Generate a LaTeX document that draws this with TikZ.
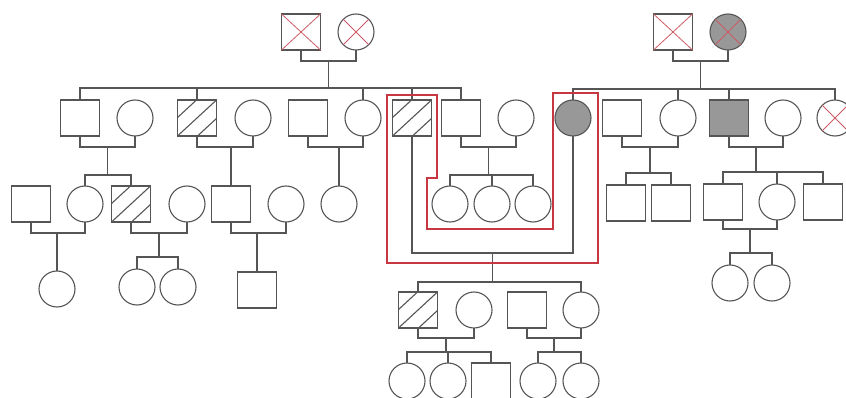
\documentclass[tikz,border=0pt]{standalone}
\usetikzlibrary{calc}
\definecolor{ln}{RGB}{85,85,85}
\definecolor{rd}{RGB}{200,55,65}
\definecolor{xr}{RGB}{205,90,100}
\definecolor{gf}{RGB}{152,152,152}
\begin{document}
\begin{tikzpicture}[x=1pt,y=-1pt,
  every node/.style={draw=ln, line width=1.1pt, inner sep=0pt, outer sep=0pt},
  sq/.style={rectangle, minimum width=39pt, minimum height=36pt},
  ci/.style={circle, minimum size=36pt},
  hatch/.style={sq, path picture={\foreach \d in {-20,0,20}{\draw[ln,line width=1.1pt] ([xshift=\d pt]path picture bounding box.south west) -- ++(39pt,36pt);}}},
  filled/.style={fill=gf},
  conn/.style={draw=ln, line width=1.1pt},
  redline/.style={draw=rd, line width=1.1pt},
  xmark/.style={draw=xr, line width=0.8pt}]
\useasboundingbox (0,0) rectangle (846,398);

% generation 1
\node[sq] (ga) at (301,32) {};
\node[ci] (gb) at (356,32) {};
\node[sq] (gc) at (673,32) {};
\node[ci,filled] (gd) at (728,32) {};
\foreach \n in {ga,gb,gc,gd}
  \draw[xmark] (\n.south west) -- (\n.north east) (\n.north west) -- (\n.south east);

% generation 2
\node[sq] (s1) at (80,118) {};
\node[ci] (c1) at (135,118) {};
\node[hatch] (h2) at (197,118) {};
\node[ci] (c2) at (253,118) {};
\node[sq] (s3) at (308,118) {};
\node[ci] (c3) at (363,118) {};
\node[hatch] (h4) at (412,118) {};
\node[sq] (s5) at (461,118) {};
\node[ci] (c5) at (516,118) {};
\node[ci,filled] (gcc) at (573,118) {};
\node[sq] (s6) at (622,118) {};
\node[ci] (c6) at (678,118) {};
\node[sq,filled] (gs) at (729,118) {};
\node[ci] (c7) at (783,118) {};
\node[ci] (cx) at (835,118) {};
\draw[xmark] (cx.south west) -- (cx.north east) (cx.north west) -- (cx.south east);

% generation 3
\node[sq] (a3) at (31,204) {};
\node[ci] (b3) at (85,204) {};
\node[hatch] (hc3) at (131,204) {};
\node[ci] (d3) at (187,204) {};
\node[sq] (e3) at (231,204) {};
\node[ci] (f3) at (286,204) {};
\node[ci] (g3) at (339,204) {};
\node[ci] (t1) at (450,204) {};
\node[ci] (t2) at (492,204) {};
\node[ci] (t3) at (533,204) {};
\node[sq] (u1) at (626,203) {};
\node[sq] (u2) at (671,203) {};
\node[sq] (v1) at (723,202) {};
\node[ci] (v2) at (777,202) {};
\node[sq] (v3) at (823,202) {};

% generation 4
\node[ci] (a4) at (57,289) {};
\node[ci] (c4a) at (137,287) {};
\node[ci] (c4b) at (178,287) {};
\node[sq] (e4) at (257,290) {};
\node[hatch] (w1) at (418,310) {};
\node[ci] (w2) at (474,310) {};
\node[sq] (w3) at (527,310) {};
\node[ci] (w4) at (581,310) {};
\node[ci] (v4a) at (730,283) {};
\node[ci] (v4b) at (772,283) {};

% generation 5
\node[ci] (x1) at (407,381) {};
\node[ci] (x2) at (448,381) {};
\node[sq] (x3) at (491,381) {};
\node[ci] (x4) at (538,381) {};
\node[ci] (x5) at (581,381) {};

% ---- connectors ----
% gen 1 couples
\draw[conn] (ga.south) -- ++(0,11) -| (gb.south);
\coordinate (mA) at ($(ga.south)!0.5!(gb.south)+(0,11)$);
\draw[conn] (gc.south) -- ++(0,11) -| (gd.south);
\coordinate (mB) at ($(gc.south)!0.5!(gd.south)+(0,11)$);
% gen 2 sibships
\coordinate (kA) at ($(s1.north)+(0,-12)$);
\draw[conn] (s1.north) -- (kA) -| (s5.north);
\foreach \n in {h2,c3,h4} \draw[conn] (\n.north) -- (\n.north |- kA);
\draw[conn] (mA) -- (mA |- kA);
\coordinate (kB) at ($(gcc.north)+(0,-11)$);
\draw[conn] (gcc.north) -- (kB) -| (cx.north);
\foreach \n in {c6,gs} \draw[conn] (\n.north) -- (\n.north |- kB);
\draw[conn] (mB) -- (mB |- kB);

% gen 2 couples
\draw[conn] (s1.south) -- ++(0,11) -| (c1.south);
\coordinate (m1) at ($(s1.south)!0.5!(c1.south)+(0,11)$);
\draw[conn] (h2.south) -- ++(0,11) -| (c2.south);
\coordinate (m2) at ($(h2.south)!0.5!(c2.south)+(0,11)$);
\draw[conn] (s3.south) -- ++(0,11) -| (c3.south);
\coordinate (m3) at ($(s3.south)!0.5!(c3.south)+(0,11)$);
\draw[conn] (s5.south) -- ++(0,11) -| (c5.south);
\coordinate (m5) at ($(s5.south)!0.5!(c5.south)+(0,11)$);
\draw[conn] (h4.south) -- ++(0,117) -| (gcc.south);
\coordinate (m4) at ($(h4.south)!0.5!(gcc.south)+(0,117)$);
\draw[conn] (s6.south) -- ++(0,11) -| (c6.south);
\coordinate (m6) at ($(s6.south)!0.5!(c6.south)+(0,11)$);
\draw[conn] (gs.south) -- ++(0,11) -| (c7.south);
\coordinate (m7) at ($(gs.south)!0.5!(c7.south)+(0,11)$);

% gen 3 sibships
\coordinate (k1) at ($(b3.north)+(0,-11)$);
\draw[conn] (b3.north) -- (k1) -| (hc3.north);
\draw[conn] (m1) -- (m1 |- k1);
\draw[conn] (e3.north) -- (e3.north |- m2);
\draw[conn] (g3.north) -- (g3.north |- m3);
\coordinate (k5) at ($(t1.north)+(0,-11)$);
\draw[conn] (t1.north) -- (k5) -| (t3.north);
\draw[conn] (t2.north) -- (t2.north |- k5);
\draw[conn] (m5) -- (m5 |- k5);
\coordinate (k6) at ($(u1.north)+(0,-12)$);
\draw[conn] (u1.north) -- (k6) -| (u2.north);
\draw[conn] (m6) -- (m6 |- k6);
\coordinate (k7) at ($(v1.north)+(0,-12)$);
\draw[conn] (v1.north) -- (k7) -| (v3.north);
\draw[conn] (v2.north) -- (v2.north |- k7);
\draw[conn] (m7) -- (m7 |- k7);

% gen 3 couples
\draw[conn] (a3.south) -- ++(0,11) -| (b3.south);
\coordinate (ma) at ($(a3.south)!0.5!(b3.south)+(0,11)$);
\draw[conn] (hc3.south) -- ++(0,11) -| (d3.south);
\coordinate (mc) at ($(hc3.south)!0.5!(d3.south)+(0,11)$);
\draw[conn] (e3.south) -- ++(0,11) -| (f3.south);
\coordinate (me) at ($(e3.south)!0.5!(f3.south)+(0,11)$);
\draw[conn] (v1.south) -- ++(0,9) -| (v2.south);
\coordinate (mv) at ($(v1.south)!0.5!(v2.south)+(0,9)$);

% gen 4 sibships
\draw[conn] (a4.north) -- (a4.north |- ma);
\coordinate (kc) at ($(c4a.north)+(0,-12)$);
\draw[conn] (c4a.north) -- (kc) -| (c4b.north);
\draw[conn] (mc) -- (mc |- kc);
\draw[conn] (e4.north) -- (e4.north |- me);
\coordinate (kv) at ($(v4a.north)+(0,-12)$);
\draw[conn] (v4a.north) -- (kv) -| (v4b.north);
\draw[conn] (mv) -- (mv |- kv);
\coordinate (k4) at ($(w1.north)+(0,-10)$);
\draw[conn] (w1.north) -- (k4) -| (w4.north);
\draw[conn] (m4) -- (m4 |- k4);

% gen 4 couples
\draw[conn] (w1.south) -- ++(0,10) -| (w2.south);
\coordinate (mw1) at ($(w1.south)!0.5!(w2.south)+(0,10)$);
\draw[conn] (w3.south) -- ++(0,10) -| (w4.south);
\coordinate (mw2) at ($(w3.south)!0.5!(w4.south)+(0,10)$);

% gen 5 sibships
\coordinate (kx1) at ($(x1.north)+(0,-11)$);
\draw[conn] (x1.north) -- (kx1) -| (x3.north);
\draw[conn] (x2.north) -- (x2.north |- kx1);
\draw[conn] (mw1) -- (mw1 |- kx1);
\coordinate (kx2) at ($(x4.north)+(0,-11)$);
\draw[conn] (x4.north) -- (kx2) -| (x5.north);
\draw[conn] (mw2) -- (mw2 |- kx2);

% red outline
\draw[redline] (387,95) -- (437,95) -- (437,178) -- (427,178) -- (427,229) -- (553,229)
  -- (553,93) -- (598,93) -- (598,263) -- (387,263) -- cycle;
\end{tikzpicture}
\end{document}
